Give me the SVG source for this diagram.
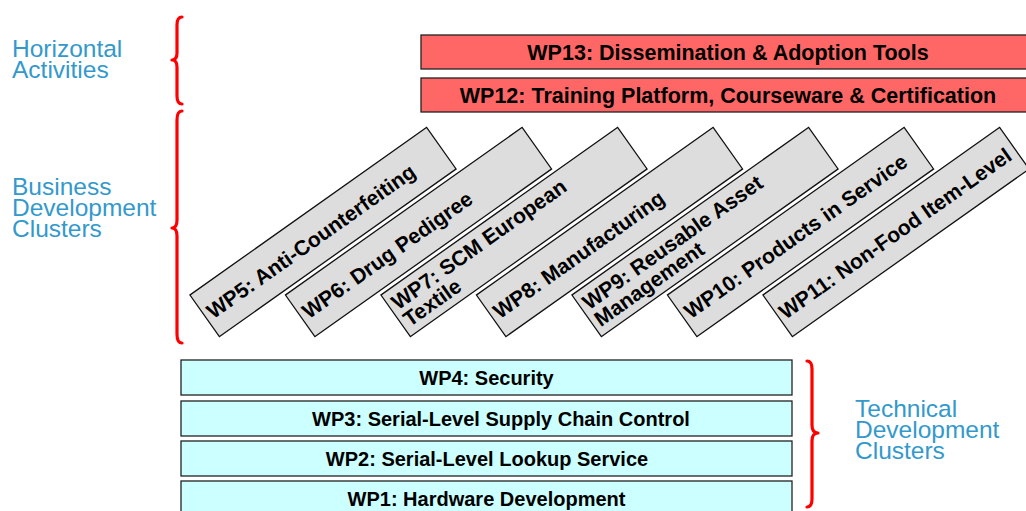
<svg xmlns="http://www.w3.org/2000/svg" width="1026" height="511" viewBox="0 0 1026 511">
<style>
.lbl{font-family:"Liberation Sans",Arial,sans-serif;font-size:24.5px;fill:#3399cc}
.t{font-family:"Liberation Sans",Arial,sans-serif;font-weight:bold;fill:#000}
.r{font-size:21.1px}
.red{fill:#ff6666;stroke:#222;stroke-width:1.3}
.cyan{fill:#ccffff;stroke:#222;stroke-width:1.3}
.gray{fill:#dddddd;stroke:#111;stroke-width:1.3}
.brace{fill:none;stroke:#ff0000;stroke-width:3.2;stroke-linecap:round;stroke-linejoin:round}
</style>
<rect width="1026" height="511" fill="#fff"/>
<g id="labels">
<text class="lbl" x="12" y="57">Horizontal</text>
<text class="lbl" x="12" y="78">Activities</text>
<text class="lbl" x="12" y="195">Business</text>
<text class="lbl" x="12" y="216">Development</text>
<text class="lbl" x="12" y="237">Clusters</text>
<text class="lbl" x="855" y="417">Technical</text>
<text class="lbl" x="855" y="438">Development</text>
<text class="lbl" x="855" y="459">Clusters</text>
</g>
<g id="braces">
<path class="brace" d="M182,17 Q177,17 177,25 L177,53 Q177,60 172,60 Q177,60 177,67 L177,96 Q177,104 182,104"/>
<path class="brace" d="M182,111 Q177,111 177,120 L177,220 Q177,228 172,228 Q177,228 177,236 L177,334 Q177,343 182,343"/>
<path class="brace" d="M807,361 Q812,361 812,369 L812,425 Q812,433 818,433 Q812,433 812,441 L812,499 Q812,507 807,507"/>
</g>
<g id="wp13"><rect class="red" x="421" y="35" width="620" height="34"/><text class="t" font-size="21.5" x="728" y="59.5" text-anchor="middle">WP13: Dissemination &amp; Adoption Tools</text></g>
<g id="wp12"><rect class="red" x="421" y="78" width="620" height="34"/><text class="t" font-size="21.5" x="728" y="102.5" text-anchor="middle">WP12: Training Platform, Courseware &amp; Certification</text></g>
<g id="wp4"><rect class="cyan" x="181" y="360" width="611" height="35"/><text class="t" font-size="20" x="486.5" y="385" text-anchor="middle">WP4: Security</text></g>
<g id="wp3"><rect class="cyan" x="181" y="401" width="611" height="35"/><text class="t" font-size="20" x="501" y="426" text-anchor="middle">WP3: Serial-Level Supply Chain Control</text></g>
<g id="wp2"><rect class="cyan" x="181" y="441" width="611" height="35"/><text class="t" font-size="20" x="487" y="466" text-anchor="middle">WP2: Serial-Level Lookup Service</text></g>
<g id="wp1"><rect class="cyan" x="181" y="481" width="611" height="35"/><text class="t" font-size="20" x="486.5" y="506" text-anchor="middle">WP1: Hardware Development</text></g>
<g id="wp5" transform="translate(323,232) rotate(-35.3)"><rect class="gray" x="-145" y="-25.5" width="290" height="51"/><text class="t r" x="-140" y="8">WP5: Anti-Counterfeiting</text></g>
<g id="wp6" transform="translate(418.5,232) rotate(-35.3)"><rect class="gray" x="-145" y="-25.5" width="290" height="51"/><text class="t r" x="-140" y="8">WP6: Drug Pedigree</text></g>
<g id="wp7" transform="translate(514,232) rotate(-35.3)"><rect class="gray" x="-145" y="-25.5" width="290" height="51"/><text class="t r" x="-140" y="-3"><tspan x="-140">WP7: SCM European</tspan><tspan x="-140" dy="20.5">Textile</tspan></text></g>
<g id="wp8" transform="translate(609.5,232) rotate(-35.3)"><rect class="gray" x="-145" y="-25.5" width="290" height="51"/><text class="t r" x="-140" y="8">WP8: Manufacturing</text></g>
<g id="wp9" transform="translate(705,232) rotate(-35.3)"><rect class="gray" x="-145" y="-25.5" width="290" height="51"/><text class="t r" x="-140" y="-3"><tspan x="-140">WP9: Reusable Asset</tspan><tspan x="-140" dy="20.5">Management</tspan></text></g>
<g id="wp10" transform="translate(800.5,232) rotate(-35.3)"><rect class="gray" x="-145" y="-25.5" width="290" height="51"/><text class="t r" x="-140" y="8">WP10: Products in Service</text></g>
<g id="wp11" transform="translate(896,232) rotate(-35.3)"><rect class="gray" x="-145" y="-25.5" width="290" height="51"/><text class="t r" x="-141" y="8">WP11: Non-Food Item-Level</text></g>
</svg>
